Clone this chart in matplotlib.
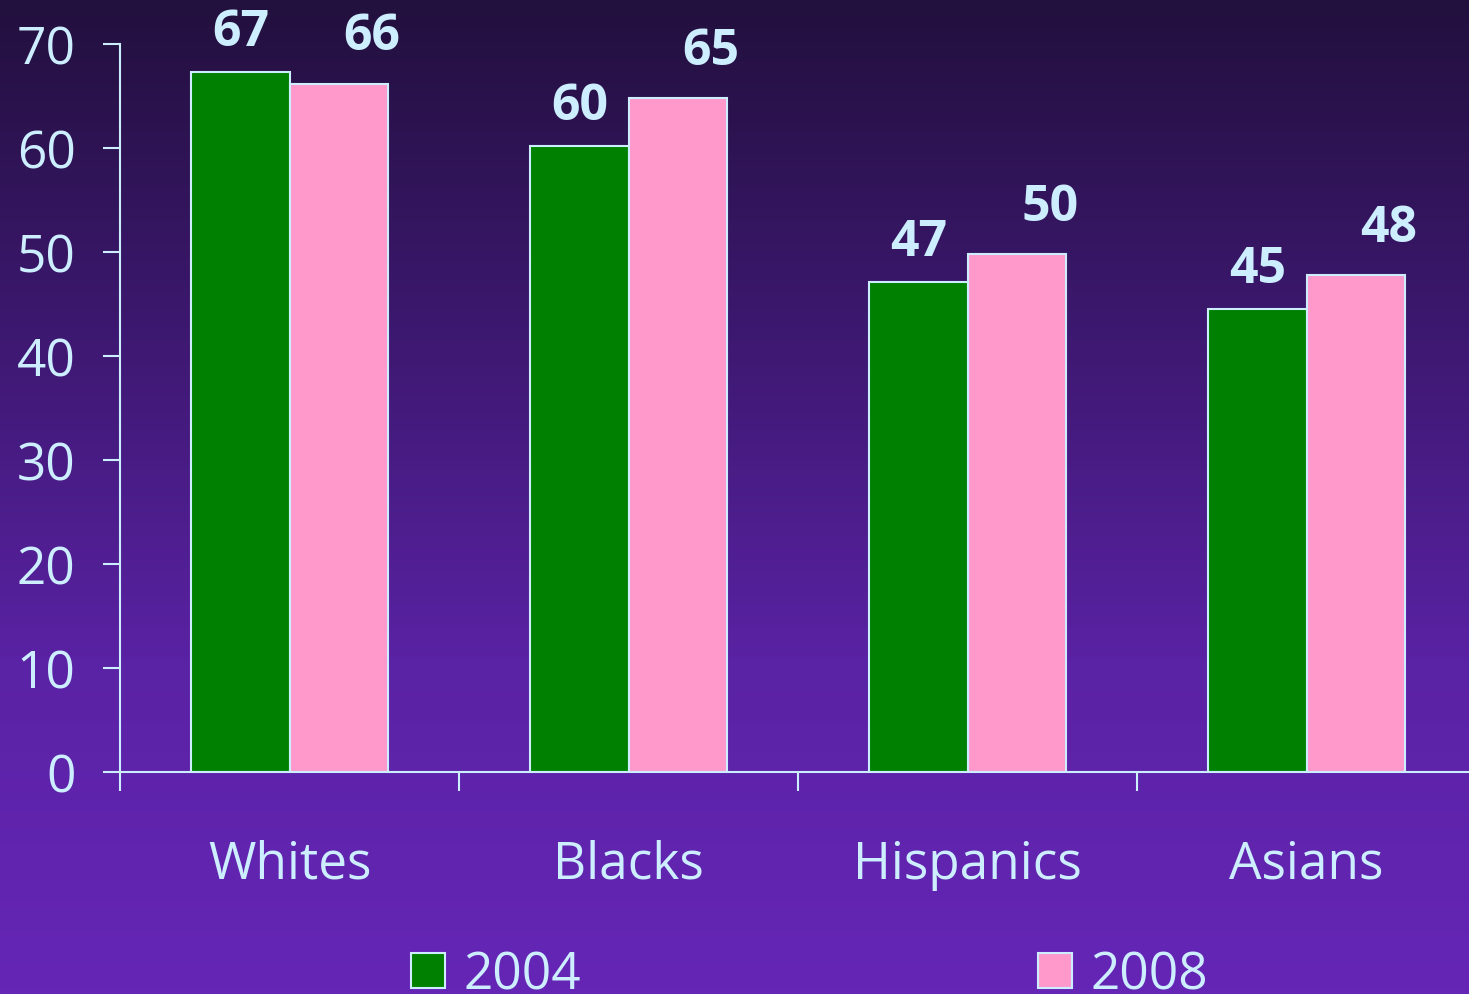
import numpy as np
import matplotlib.pyplot as plt
from matplotlib.colors import LinearSegmentedColormap

groups = ['Whites', 'Blacks', 'Hispanics', 'Asians']
years = ['2004', '2008']
vals_2004 = [67.3, 60.2, 47.1, 44.5]
vals_2008 = [66.2, 64.8, 49.8, 47.8]
labels_2004 = ['67', '60', '47', '45']
labels_2008 = ['66', '65', '50', '48']

txt = '#cdeeff'
plt.rcParams['font.family'] = ['Open Sans', 'DejaVu Sans']

fig = plt.figure(figsize=(14.69, 9.95), dpi=100)

# background gradient
bg = fig.add_axes([0, 0, 1, 1], zorder=-10)
cmap = LinearSegmentedColormap.from_list('bg', ['#22103d', '#3d1870', '#5a22a4', '#6526b6'])
bg.imshow(np.linspace(0, 1, 256).reshape(-1, 1), aspect='auto', cmap=cmap,
          extent=[0, 1, 0, 1])
bg.axis('off')

ax = fig.add_axes([120/1469, 1-773/995, 1-120/1469, (773-45)/995])
ax.patch.set_alpha(0)

x = np.arange(len(groups))
w = 0.29
b1 = ax.bar(x - w/2, vals_2004, w, color='#008000', edgecolor=txt, linewidth=1.5, label=years[0])
b2 = ax.bar(x + w/2, vals_2008, w, color='#ff99cc', edgecolor=txt, linewidth=1.5, label=years[1])

for i in range(len(groups)):
    ax.annotate(labels_2004[i], (x[i] - w/2, vals_2004[i]), xytext=(0, 11), textcoords='offset points',
                ha='center', va='bottom', fontsize=36, fontweight='bold', color=txt)
    ax.annotate(labels_2008[i], (x[i] + w/2, vals_2008[i]), xytext=(24, 16), textcoords='offset points',
                ha='center', va='bottom', fontsize=36, fontweight='bold', color=txt)

ax.set_yticks(range(0, 71, 10))
ax.set_xticks(x)
ax.set_xticklabels(groups)
ax.set_xticks(np.arange(-0.5, 4, 1), minor=True)
ax.set_ylim(0, 70)
ax.set_xlim(-0.5, 3.479)

for s in ['top', 'right']:
    ax.spines[s].set_visible(False)
for s in ['left', 'bottom']:
    ax.spines[s].set_color(txt)
    ax.spines[s].set_linewidth(1.5)

ax.tick_params(axis='y', colors=txt, labelsize=37, length=12, width=1.5, pad=20)
ax.tick_params(axis='x', which='major', colors=txt, labelsize=37, length=0, pad=48)
ax.tick_params(axis='x', which='minor', color=txt, length=14, width=1.5)

leg = fig.legend(handles=[b1, b2], loc='center', bbox_to_anchor=(0.551, 0.019), ncol=2,
                 frameon=False, fontsize=37, handlelength=0.66, handleheight=0.66,
                 handletextpad=0.35, columnspacing=8.9, borderpad=0)
for t in leg.get_texts():
    t.set_color(txt)

fig.savefig('out.png', dpi=100)
